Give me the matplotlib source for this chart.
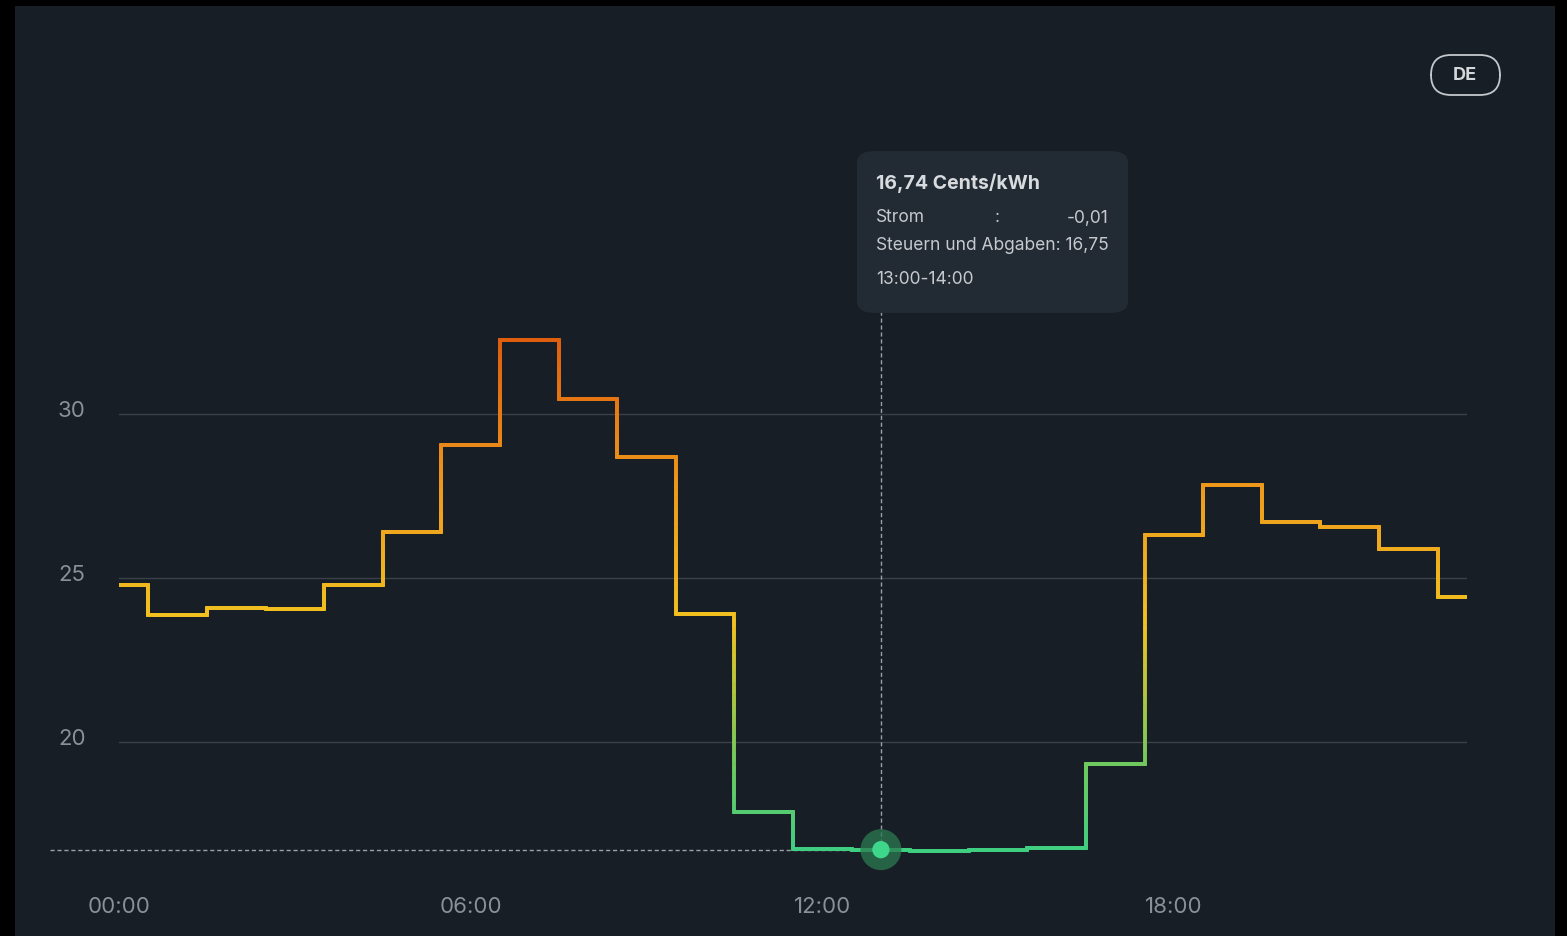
import numpy as np
import matplotlib
matplotlib.use("Agg")
import matplotlib.pyplot as plt
import matplotlib.transforms as mtransforms
from matplotlib.collections import LineCollection
from matplotlib.colors import LinearSegmentedColormap, Normalize
from matplotlib.patches import Rectangle, FancyBboxPatch

# Strompreis je Stunde (Cents/kWh)
hours = list(range(24))
prices = [24.80, 23.87, 24.09, 24.06, 24.79, 26.40, 29.04, 32.23, 30.46, 28.68,
          23.90, 17.89, 16.76, 16.74, 16.70, 16.72, 16.79, 19.35, 26.31, 27.83,
          26.70, 26.55, 25.88, 24.42]
xticks = [0, 6, 12, 18]
xtick_labels = ["00:00", "06:00", "12:00", "18:00"]
yticks = [20, 25, 30]

sel_hour = 13
tip_title = "16,74 Cents/kWh"
tip_rows = [("Strom", "-0,01"), ("Steuern und Abgaben", "16,75")]
tip_time = "13:00-14:00"

W, H = 1567, 936
BG = "#171e25"
TXT = "#8a9097"

plt.rcParams['font.family'] = ['Inter', 'DejaVu Sans']


def fx(px):
    return px / W


def fy(py):
    return 1 - py / H


fig = plt.figure(figsize=(W / 100, H / 100), dpi=100, facecolor="black")
fig.patches.append(Rectangle((fx(15), 0), fx(1555) - fx(15), fy(6), transform=fig.transFigure,
                             facecolor=BG, edgecolor="none", zorder=-10))

ax = fig.add_axes([fx(119), fy(874), fx(1467) - fx(119), fy(315) - fy(874)])
ax.set_facecolor("none")
ax.set_xlim(0, 23)
ax.set_ylim(16, 33)
for s in ax.spines.values():
    s.set_visible(False)

ax.set_yticks(yticks)
ax.set_xticks(xticks)
ax.set_xticklabels(xtick_labels)
ax.tick_params(length=0, labelsize=16, labelcolor=TXT)
ax.tick_params(axis="y", pad=24)
ax.tick_params(axis="x", pad=16.5)
ax.grid(axis="y", color="#3a4148", lw=1)
ax.grid(axis="x", visible=False)
# y-Beschriftung leicht über der Gitterlinie
up = mtransforms.ScaledTranslation(0, 5 / 100, fig.dpi_scale_trans)
for lbl in ax.get_yticklabels():
    lbl.set_transform(lbl.get_transform() + up)

# Treppenlinie (Stufen mittig um die Stunde) mit Farbverlauf nach Preis
px = [hours[0]]
py = [prices[0]]
for i in range(1, len(hours)):
    b = hours[i] - 0.5
    px += [b, b]
    py += [prices[i - 1], prices[i]]
px.append(hours[-1])
py.append(prices[-1])

segs, vals = [], []
for i in range(len(px) - 1):
    n = 60
    xs = np.linspace(px[i], px[i + 1], n + 1)
    ys = np.linspace(py[i], py[i + 1], n + 1)
    for j in range(n):
        segs.append([(xs[j], ys[j]), (xs[j + 1], ys[j + 1])])
        vals.append((ys[j] + ys[j + 1]) / 2)

cmap = LinearSegmentedColormap.from_list("preis", [
    (0.0, "#3ecf82"), (0.18, "#72c95e"), (0.45, "#f2c21f"),
    (0.7, "#ee9c1c"), (1.0, "#e05e0e")])
lc = LineCollection(segs, cmap=cmap, norm=Normalize(16.6, 32.3), linewidths=2.6,
                    capstyle="projecting", joinstyle="miter", zorder=3)
lc.set_array(np.array(vals))
ax.add_collection(lc)

# Markierung der gewählten Stunde
sel_val = prices[hours.index(sel_hour)]
ax.plot([-1.18, sel_hour], [sel_val, sel_val], color="#9aa0a6", lw=1, ls=(0, (3, 2)),
        clip_on=False, zorder=2)
ax.plot([sel_hour, sel_hour], [sel_val, 33.3], color="#9aa0a6", lw=1, ls=(0, (3, 2)),
        clip_on=False, zorder=2)
ax.scatter([sel_hour], [sel_val], s=870, color="#2a7a52", alpha=0.75, zorder=4,
           clip_on=False, edgecolors="none")
ax.scatter([sel_hour], [sel_val], s=155, color="#3ed68a", zorder=5, clip_on=False,
           edgecolors="none")

# Tooltip
tip = FancyBboxPatch((fx(857), fy(313)), fx(1128) - fx(857), fy(151) - fy(313),
                     boxstyle="round,pad=0,rounding_size=0.012", transform=fig.transFigure,
                     facecolor="#222a33", edgecolor="none", zorder=6)
fig.patches.append(tip)
fig.text(fx(876), fy(183), tip_title, fontsize=14, fontweight="bold", color="#d8dbde",
         va="center", ha="left", zorder=7)
fig.text(fx(876), fy(218), tip_rows[0][0], fontsize=12.5, color="#c6cacf", va="center", zorder=7)
fig.text(fx(997), fy(218), ":", fontsize=12.5, color="#c6cacf", va="center", ha="center", zorder=7)
fig.text(fx(1109), fy(218), tip_rows[0][1], fontsize=12.5, color="#c6cacf", va="center",
         ha="right", zorder=7)
fig.text(fx(876), fy(245), tip_rows[1][0] + ": " + tip_rows[1][1], fontsize=12.5,
         color="#c6cacf", va="center", zorder=7)
fig.text(fx(876), fy(280), tip_time, fontsize=12.5, color="#c6cacf", va="center", zorder=7)

# Länder-Button
btn = FancyBboxPatch((fx(1431), fy(95)), fx(1500) - fx(1431), fy(55) - fy(95),
                     boxstyle="round,pad=0,rounding_size=0.0128", transform=fig.transFigure,
                     facecolor="none", edgecolor="#c4c8cc", lw=1.3, zorder=6,
                     mutation_aspect=W / H)
fig.patches.append(btn)
fig.text(fx(1465), fy(75), "DE", fontsize=13, fontweight="bold", color="#d4d7da",
         ha="center", va="center")

fig.savefig("out.png", dpi=100, facecolor=fig.get_facecolor())
